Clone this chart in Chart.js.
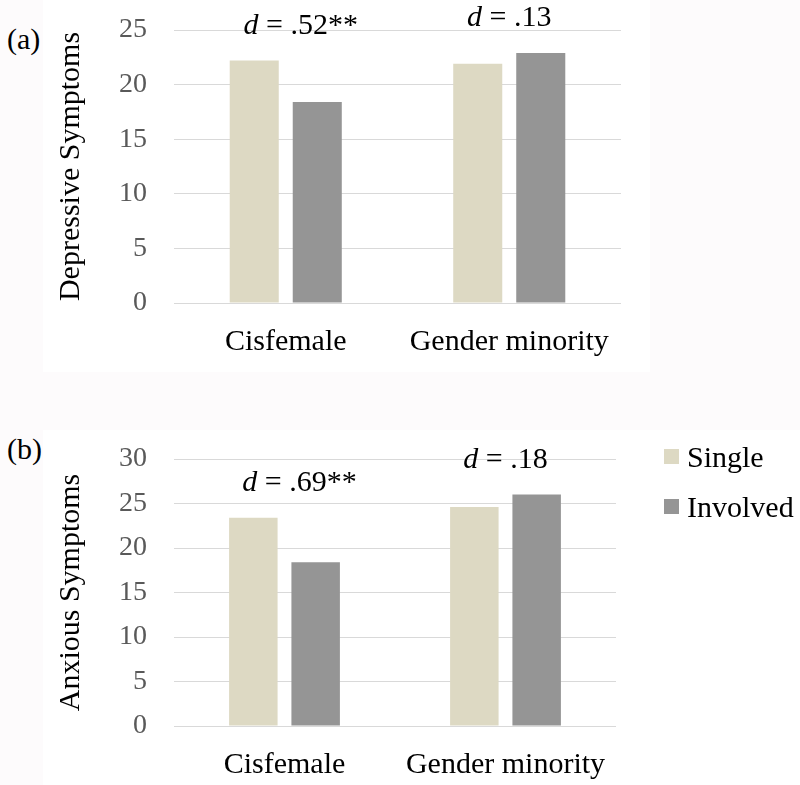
<!DOCTYPE html>
<html>
<head>
<meta charset="utf-8">
<script src="https://cdn.jsdelivr.net/npm/chart.js@4.4.0/dist/chart.umd.min.js"></script>
<style>
  body { margin: 0; background: #fdfbfc; width: 800px; height: 785px; position: relative; overflow: hidden; font-family: "Liberation Serif", "Times New Roman", serif; }
  canvas { position: absolute; background: #fff; }
  #chartA { left: 43px; top: 0; }
  #chartB { left: 43px; top: 430px; }
  .panel { position: absolute; left: 7px; font-size: 30px; line-height: 1; color: #000; }
</style>
</head>
<body>
<div class="panel" style="top:24px">(a)</div>
<div class="panel" style="top:434px">(b)</div>
<canvas id="chartA" width="607" height="372"></canvas>
<canvas id="chartB" width="757" height="355"></canvas>
<script>
var groups = ['Cisfemale', 'Gender minority'];
var seriesNames = ['Single', 'Involved'];
var seriesColors = ['#ddd9c3', '#959595'];

var depSingle = [22.2, 21.9];
var depInvolved = [18.4, 22.9];
var depEffect = ['.52', '.13'];
var depStars = ['**', ''];
var depTicks = [0, 5, 10, 15, 20, 25];

var anxSingle = [23.4, 24.6];
var anxInvolved = [18.4, 26.0];
var anxEffect = ['.69', '.18'];
var anxStars = ['**', ''];
var anxTicks = [0, 5, 10, 15, 20, 25, 30];

var serif = '"Liberation Serif", "Times New Roman", serif';

// "d = .52**" above each pair of bars
var effectLabels = {
  id: 'effectLabels',
  afterDatasetsDraw: function(chart, args, opts) {
    var ctx = chart.ctx;
    var xs = chart.scales.x, ys = chart.scales.y;
    ctx.save();
    ctx.fillStyle = '#000';
    ctx.textBaseline = 'alphabetic';
    opts.values.forEach(function(v, i) {
      var top = Math.max.apply(null, chart.data.datasets.map(function(d) { return d.data[i]; }));
      var cx = xs.getPixelForValue(i);
      var by = ys.getPixelForValue(top) - 27;
      ctx.font = 'italic 30px ' + serif;
      var dW = ctx.measureText('d').width;
      ctx.font = '30px ' + serif;
      var rest = ' = ' + v;
      var left = cx - (dW + ctx.measureText(rest).width) / 2;
      ctx.font = 'italic 30px ' + serif;
      ctx.fillText('d', left, by);
      ctx.font = '30px ' + serif;
      ctx.fillText(rest + opts.stars[i], left + dW, by);
    });
    ctx.restore();
  }
};

// legend to the right of panel (b)
var sideLegend = {
  id: 'sideLegend',
  afterDraw: function(chart, args, opts) {
    var ctx = chart.ctx;
    var a = chart.chartArea;
    ctx.save();
    ctx.font = '30px ' + serif;
    ctx.textBaseline = 'alphabetic';
    chart.data.datasets.forEach(function(ds, i) {
      var bx = a.right + opts.offsetX;
      var by = a.top + opts.offsetY + i * opts.step;
      ctx.fillStyle = ds.backgroundColor;
      ctx.fillRect(bx, by, 15, 15);
      ctx.fillStyle = '#000';
      ctx.fillText(ds.label, bx + 23, by + 17.5);
    });
    ctx.restore();
  }
};

function makeData(single, involved) {
  return {
    labels: groups,
    datasets: [
      { label: seriesNames[0], data: single, backgroundColor: seriesColors[0] },
      { label: seriesNames[1], data: involved, backgroundColor: seriesColors[1] }
    ]
  };
}

function makeOptions(ticks, title, padding, xHeight, effect, stars) {
  return {
    responsive: false,
    animation: false,
    categoryPercentage: 0.564,
    barPercentage: 0.778,
    layout: { padding: padding },
    plugins: {
      legend: { display: false },
      tooltip: { enabled: false },
      effectLabels: { values: effect, stars: stars },
      sideLegend: { offsetX: 48, offsetY: -10, step: 50 }
    },
    scales: {
      x: {
        grid: { display: false },
        border: { display: false },
        ticks: { color: '#000', font: { family: serif, size: 30 }, padding: 13, maxRotation: 0, autoSkip: false },
        afterFit: function(s) { s.height = xHeight; }
      },
      y: {
        min: ticks[0],
        max: ticks[ticks.length - 1],
        grid: { color: '#d9d9d9', lineWidth: 1, drawTicks: false },
        border: { display: false },
        ticks: { stepSize: ticks[1] - ticks[0], color: '#595959', font: { family: serif, size: 28 }, padding: 27 },
        title: { display: true, text: title, color: '#000', font: { family: serif, size: 30 }, padding: { top: 10, bottom: 0 } },
        afterFit: function(s) {
          s.width = 131;
          // tick padding should not push the plot down
          s.paddingTop = 0;
          s.paddingBottom = 0;
        }
      }
    }
  };
}

new Chart(document.getElementById('chartA'), {
  type: 'bar',
  data: makeData(depSingle, depInvolved),
  options: makeOptions(depTicks, 'Depressive Symptoms', { top: 30, right: 29, bottom: 0, left: 0 }, 69, depEffect, depStars),
  plugins: [effectLabels]
});

new Chart(document.getElementById('chartB'), {
  type: 'bar',
  data: makeData(anxSingle, anxInvolved),
  options: makeOptions(anxTicks, 'Anxious Symptoms', { top: 29, right: 184, bottom: 0, left: 0 }, 59, anxEffect, anxStars),
  plugins: [effectLabels, sideLegend]
});
</script>
</body>
</html>
